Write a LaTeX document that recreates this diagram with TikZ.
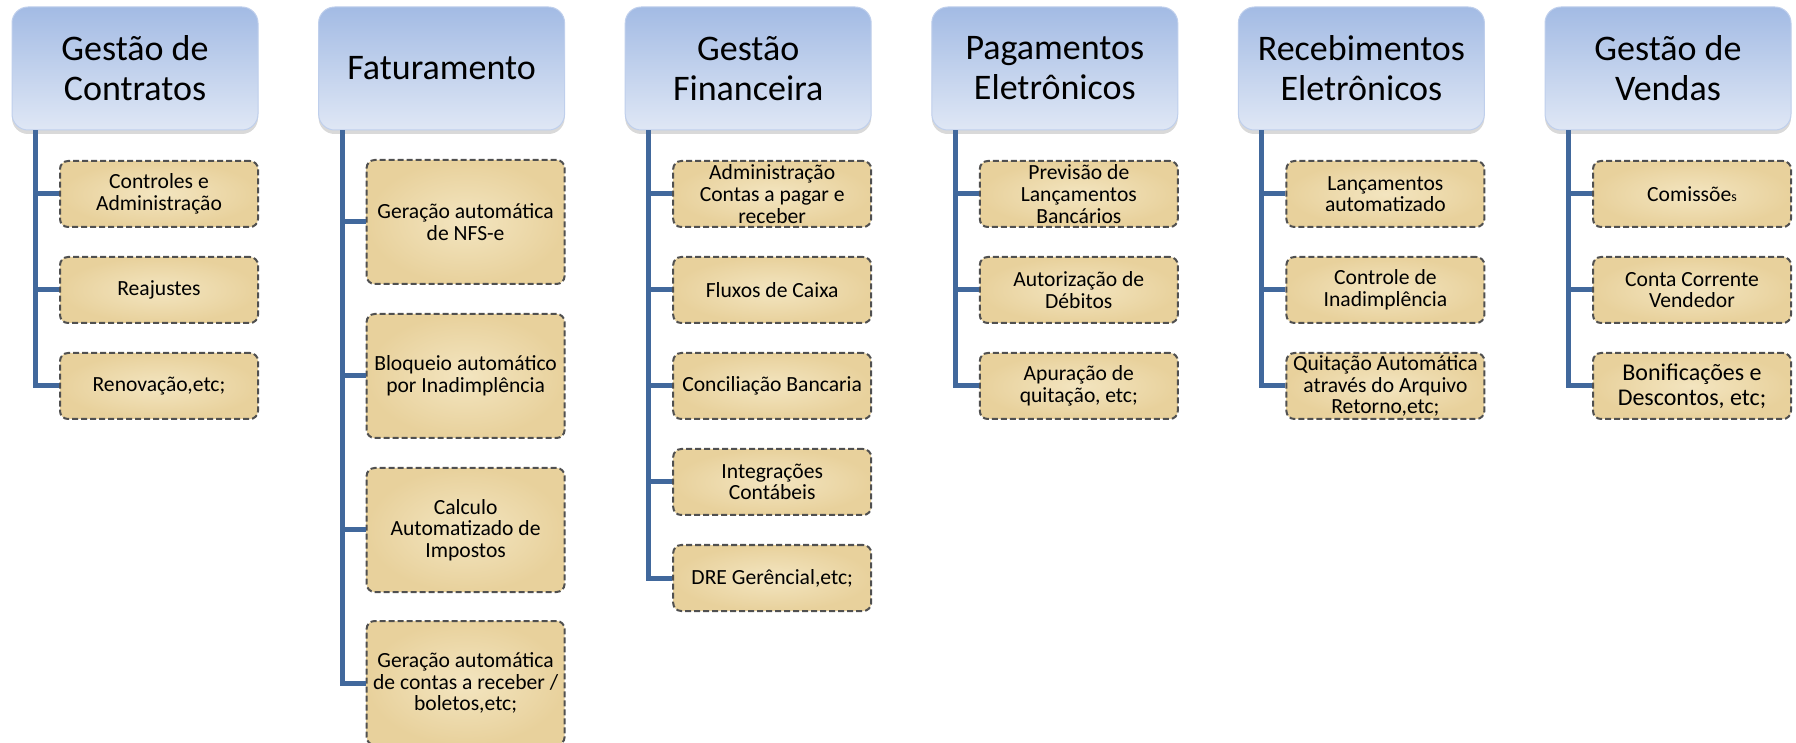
\documentclass[tikz,border=0pt]{standalone}
\usepackage{fontspec}
\setmainfont{Carlito}
\usetikzlibrary{shadows}
\definecolor{azul}{RGB}{65,104,156}
\definecolor{ceutopo}{RGB}{163,187,228}
\definecolor{ceubase}{RGB}{223,231,245}
\definecolor{papiro}{RGB}{243,229,192}
\definecolor{papirob}{RGB}{232,209,156}
\definecolor{tracejado}{RGB}{80,80,80}
\tikzset{modulo/.style={rounded corners=8pt, draw=ceutopo!70!white, line width=0.5pt,
           top color=ceutopo, bottom color=ceubase, minimum width=123pt, minimum height=61.5pt,
           inner sep=2pt, align=center, font=\fontsize{18}{20}\selectfont,
           drop shadow={opacity=0.3, shadow xshift=0pt, shadow yshift=-2pt}},
         funcao/.style={rounded corners=4pt, draw=tracejado, dash pattern=on 3pt off 1.5pt, line width=1pt,
           inner color=papiro, outer color=papirob, minimum width=99pt, minimum height=33pt,
           inner sep=1pt, align=center, font=\fontsize{10.8}{10.8}\selectfont},
         funcao alta/.style={funcao, minimum height=62pt},
         ramo/.style={draw=azul, line width=2.5pt}}

\begin{document}
\begin{tikzpicture}[x=0.5pt,y=-0.5pt]
  \useasboundingbox (0,0) rectangle (1796,743);
  \node[modulo] (contratos)    at ( 135.0,68.5) {Gestão de\\Contratos};
  \node[modulo] (faturamento)  at ( 441.6,68.5) {Faturamento};
  \node[modulo] (financeira)   at ( 748.2,68.5) {Gestão\\Financeira};
  \node[modulo] (pagamentos)   at (1054.8,68.5) {Pagamentos\\Eletrônicos};
  \node[modulo] (recebimentos) at (1361.4,68.5) {Recebimentos\\Eletrônicos};
  \node[modulo] (vendas)       at (1668.0,68.5) {Gestão de\\Vendas};

  \node[funcao] (contratos1) at ( 159.0,194) {Controles e\\Administração};
  \node[funcao] (contratos2) at ( 159.0,290) {Reajustes};
  \node[funcao] (contratos3) at ( 159.0,386) {Renovação,etc;};

  \node[funcao alta] (faturamento1) at ( 465.6,222) {Geração automática\\de NFS-e};
  \node[funcao alta] (faturamento2) at ( 465.6,376) {Bloqueio automático\\por Inadimplência};
  \node[funcao alta] (faturamento3) at ( 465.6,530) {Calculo\\Automatizado de\\Impostos};
  \node[funcao alta] (faturamento4) at ( 465.6,683) {Geração automática\\de contas a receber /\\boletos,etc;};

  \node[funcao] (financeira1) at ( 772.2,194) {Administração\\Contas a pagar e\\receber};
  \node[funcao] (financeira2) at ( 772.2,290) {Fluxos de Caixa};
  \node[funcao] (financeira3) at ( 772.2,386) {Conciliação Bancaria};
  \node[funcao] (financeira4) at ( 772.2,482) {Integrações\\Contábeis};
  \node[funcao] (financeira5) at ( 772.2,578) {DRE Gerêncial,etc;};

  \node[funcao] (pagamentos1) at (1078.8,194) {Previsão de\\Lançamentos\\Bancários};
  \node[funcao] (pagamentos2) at (1078.8,290) {Autorização de\\Débitos};
  \node[funcao] (pagamentos3) at (1078.8,386) {Apuração de\\quitação, etc;};

  \node[funcao] (recebimentos1) at (1385.4,194) {Lançamentos\\automatizado};
  \node[funcao] (recebimentos2) at (1385.4,290) {Controle de\\Inadimplência};
  \node[funcao] (recebimentos3) at (1385.4,386) {Quitação Automática\\através do Arquivo\\Retorno,etc;};

  \node[funcao] (vendas1) at (1692.0,194) {Comissõe{\fontsize{7}{7}\selectfont s}};
  \node[funcao] (vendas2) at (1692.0,290) {Conta Corrente\\Vendedor};
  \node[funcao, font=\fontsize{12}{12.5}\selectfont] (vendas3) at (1692.0,386) {Bonificações e\\Descontos, etc;};

  \foreach \i in {1,2,3}   \draw[ramo] ([xshift=12pt]contratos.south west) |- (contratos\i.west);
  \foreach \i in {1,...,4} \draw[ramo] ([xshift=12pt]faturamento.south west) |- (faturamento\i.west);
  \foreach \i in {1,...,5} \draw[ramo] ([xshift=12pt]financeira.south west) |- (financeira\i.west);
  \foreach \i in {1,2,3}   \draw[ramo] ([xshift=12pt]pagamentos.south west) |- (pagamentos\i.west);
  \foreach \i in {1,2,3}   \draw[ramo] ([xshift=12pt]recebimentos.south west) |- (recebimentos\i.west);
  \foreach \i in {1,2,3}   \draw[ramo] ([xshift=12pt]vendas.south west) |- (vendas\i.west);
\end{tikzpicture}
\end{document}
